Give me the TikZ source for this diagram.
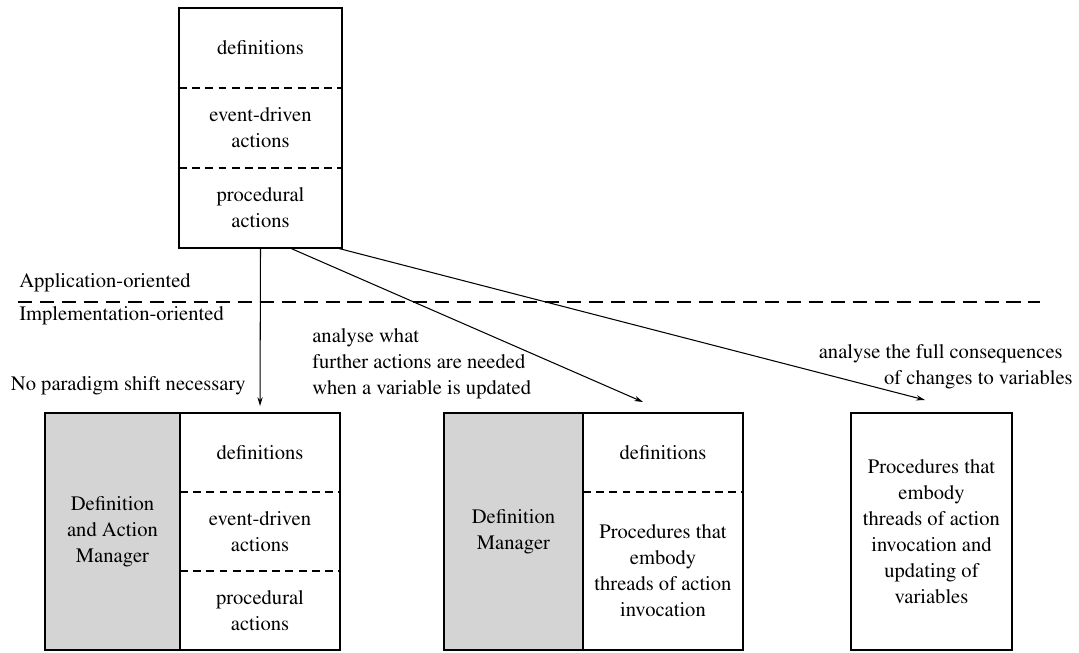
\documentclass[tikz,border=0pt]{standalone}
\usepackage[T1]{fontenc}
\usepackage{mathptmx}
\usepackage{tikz}
\usetikzlibrary{positioning, arrows.meta}

\tikzset{
  sect/.style={inner sep=0pt, outer sep=0pt, align=center},
  mgr/.style={sect, fill=black!17},
  frame/.style={line width=1.1pt},
  sep/.style={dash pattern=on 4.5pt off 3pt, line width=0.8pt},
  level/.style={dash pattern=on 8pt off 4.5pt, line width=0.8pt},
  arr/.style={-{Stealth[length=5pt,width=3pt]}, line width=0.6pt},
  lbl/.style={inner sep=0pt}
}

\begin{document}
\begin{tikzpicture}[every node/.style={font=\fontsize{11.7}{14.8}\selectfont}]
    \useasboundingbox (0,0) rectangle (21.58,-13.04);

    % application-oriented model
    \node (defA)  [sect, minimum width=3.26cm, minimum height=1.6cm] at (5.21,-0.96) {definitions};
    \node (evA)   [sect, minimum width=3.26cm, minimum height=1.6cm, below=0pt of defA] {event-driven\\actions};
    \node (procA) [sect, minimum width=3.26cm, minimum height=1.6cm, below=0pt of evA]  {procedural\\actions};
    \draw[frame] (defA.north west) rectangle (procA.south east);
    \draw[sep] (defA.south west) -- (defA.south east);
    \draw[sep] (evA.south west)  -- (evA.south east);

    % level line
    \node (appl) [lbl, anchor=west] at (0.38,-5.66) {Application-oriented};
    \node (impl) [lbl, anchor=west] at (0.38,-6.32) {Implementation-oriented};
    \coordinate (levL) at (0.36,-6.04);
    \coordinate (levR) at (20.8,-6.04);
    \draw[level] (levL) -- (levR);

    % first implementation
    \node (mgrB)  [mgr, minimum width=2.7cm, minimum height=4.74cm] at (2.25,-10.63) {Definition\\and Action\\Manager};
    \node (defB)  [sect, minimum width=3.2cm, minimum height=1.58cm, below right=0pt of mgrB.north east] {definitions};
    \node (evB)   [sect, minimum width=3.2cm, minimum height=1.58cm, below=0pt of defB] {event-driven\\actions};
    \node (procB) [sect, minimum width=3.2cm, minimum height=1.58cm, below=0pt of evB]  {procedural\\actions};
    \draw[frame] (mgrB.north west) rectangle (procB.south east);
    \draw[frame] (mgrB.north east) -- (mgrB.south east);
    \draw[sep] (defB.south west) -- (defB.south east);
    \draw[sep] (evB.south west)  -- (evB.south east);

    % second implementation
    \node (mgrC)  [mgr, minimum width=2.78cm, minimum height=4.74cm] at (10.27,-10.63) {Definition\\Manager};
    \node (defC)  [sect, minimum width=3.2cm, minimum height=1.58cm, below right=0pt of mgrC.north east] {definitions};
    \node (procC) [sect, minimum width=3.2cm, minimum height=3.16cm, below=0pt of defC] {Procedures that\\embody\\threads of action\\invocation};
    \draw[frame] (mgrC.north west) rectangle (procC.south east);
    \draw[frame] (mgrC.north east) -- (mgrC.south east);
    \draw[sep] (defC.south west) -- (defC.south east);

    % third implementation
    \node (procD) [sect, minimum width=3.22cm, minimum height=4.74cm] at (18.63,-10.63) {Procedures that\\embody\\threads of action\\invocation and\\updating of\\variables};
    \draw[frame] (procD.north west) rectangle (procD.south east);

    % labels
    \node (shift)   [lbl, anchor=east] at (4.92,-7.72) {No paradigm shift necessary};
    \node (further) [lbl, anchor=west, align=left] at (6.24,-7.28) {analyse what\\further actions are needed\\when a variable is updated};
    \node (full)    [lbl, anchor=east, align=right] at (21.46,-7.33) {analyse the full consequences\hspace*{0.2cm}\\of changes to variables};

    % arrows
    \coordinate (tipC) at (12.86,-8.04);
    \coordinate (tipD) at (18.5,-8.0);
    \draw[arr, shorten >=0.14cm] (procA.south) -- (defB.north);
    \draw[arr] ([xshift=0.59cm]procA.south) -- (tipC);
    \draw[arr] ([xshift=1.53cm]procA.south) -- (tipD);
\end{tikzpicture}
\end{document}
